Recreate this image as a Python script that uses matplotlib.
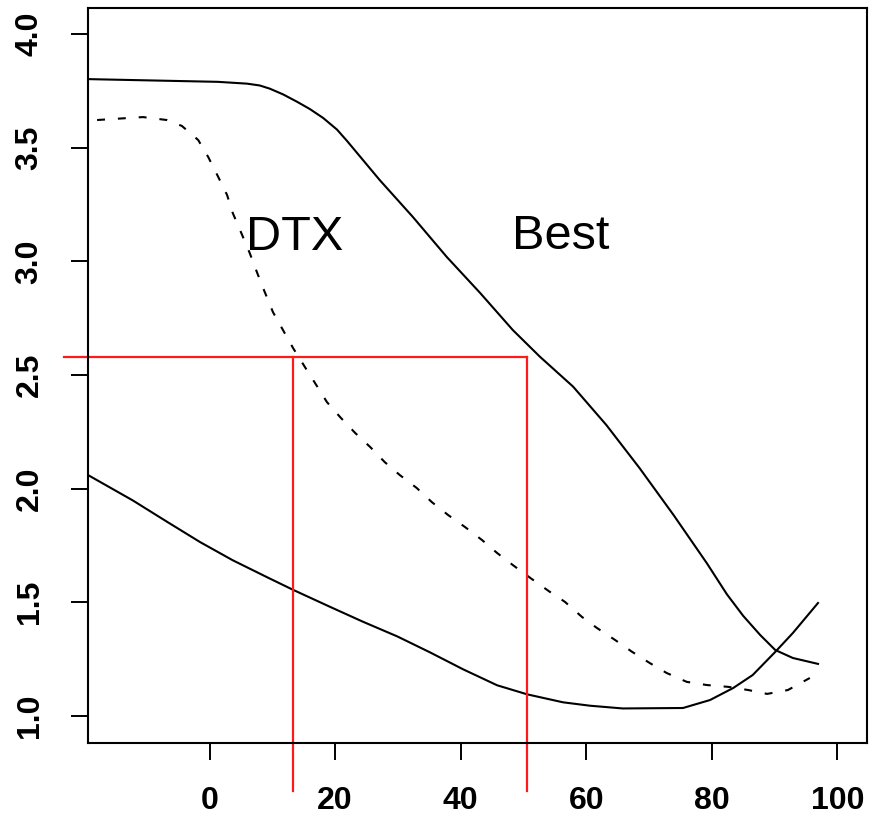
import numpy as np
import matplotlib.pyplot as plt

# upper solid curve ("Best")
best_x = [-19.35, 1.35, 6.0, 8.0, 9.6, 11.7, 13.9, 16.0, 18.1, 20.3, 21.9,
          27.1, 32.4, 37.8, 43.1, 48.3, 52.6, 57.9, 63.2, 68.5, 73.9, 79.2,
          82.4, 85.0, 87.7, 90.1, 92.9, 96.9]
best_y = [3.802, 3.790, 3.782, 3.774, 3.760, 3.735, 3.703, 3.670, 3.631, 3.580,
          3.530, 3.358, 3.195, 3.019, 2.861, 2.698, 2.581, 2.449, 2.280, 2.090,
          1.884, 1.672, 1.535, 1.440, 1.356, 1.290, 1.255, 1.229]

# dashed curve ("DTX")
dtx_x = [-17.9, -10.6, -6.8, -4.4, -1.8, -0.2, 1.4, 2.8, 3.7, 5.2, 6.4, 7.6,
         8.8, 10.1, 11.7, 13.3, 15.2, 16.8, 18.7, 20.8, 23.2, 25.6, 27.9,
         30.3, 33.0, 35.4, 38.0, 40.7, 43.4, 45.8, 48.3, 51.1, 54.2, 56.6,
         59.3, 61.7, 64.6, 67.3, 70.1, 72.8, 76.0, 79.2, 82.6, 85.8, 88.8,
         92.1, 95.6]
dtx_y = [3.622, 3.635, 3.622, 3.596, 3.534, 3.459, 3.371, 3.292, 3.213, 3.116,
         3.037, 2.949, 2.865, 2.777, 2.698, 2.619, 2.535, 2.465, 2.381, 2.315,
         2.245, 2.183, 2.117, 2.060, 2.003, 1.941, 1.884, 1.831, 1.774, 1.717,
         1.664, 1.607, 1.546, 1.502, 1.436, 1.387, 1.334, 1.282, 1.233, 1.189,
         1.150, 1.136, 1.128, 1.114, 1.097, 1.114, 1.167]

# lower solid curve
low_x = [-19.35, -12.2, -6.8, -1.5, 3.7, 9.2, 13.3, 19.2, 24.4, 29.9, 35.1,
         40.4, 45.8, 50.6, 56.3, 60.6, 65.8, 75.4, 79.7, 83.4, 86.5, 90.1,
         92.9, 96.9]
low_y = [2.060, 1.948, 1.855, 1.765, 1.685, 1.610, 1.555, 1.480, 1.415, 1.350,
         1.280, 1.205, 1.135, 1.095, 1.060, 1.045, 1.033, 1.035, 1.070, 1.123,
         1.180, 1.282, 1.365, 1.497]

# reference level and the two x values where it meets the curves
ref_level = 2.58
ref_x = [13.25, 50.6]
ref_left = -23.2
ref_bottom = 0.67

xticks = [0, 20, 40, 60, 80, 100]
yticks = [1.0, 1.5, 2.0, 2.5, 3.0, 3.5, 4.0]

fig = plt.figure(figsize=(8.73, 8.31), dpi=100)
ax = fig.add_axes([0.1008, 0.1059, 0.8923, 0.8845])

line_kw = dict(color="black", lw=1.5, solid_joinstyle="round")
ax.plot(best_x, best_y, **line_kw)
ax.plot(dtx_x, dtx_y, dashes=(3.8, 6.2), **line_kw)
ax.plot(low_x, low_y, **line_kw)

ax.plot([ref_left, ref_x[1]], [ref_level, ref_level], color="#ff1a1a", lw=1.6,
        clip_on=False)
for xv in ref_x:
    ax.plot([xv, xv], [ref_bottom, ref_level], color="#ff1a1a", lw=1.6,
            clip_on=False)

ax.text(13.6, 3.107, "DTX", fontsize=35, family="Liberation Sans",
        ha="center", va="center")
ax.text(56.0, 3.11, "Best", fontsize=35, family="Liberation Sans",
        ha="center", va="center")

ax.set_xlim(-19.35, 104.7)
ax.set_ylim(0.881, 4.115)
ax.set_xticks(xticks)
ax.set_yticks(yticks)
ax.set_xticklabels([str(t) for t in xticks], fontsize=23, fontweight="bold",
                   family="Liberation Sans")
ax.set_yticklabels([f"{t:.1f}" for t in yticks], fontsize=23,
                   fontweight="bold", family="Liberation Sans", rotation=90,
                   va="center")
ax.tick_params(direction="out", length=12.2, width=1.4, pad=19)
for s in ax.spines.values():
    s.set_linewidth(1.5)

fig.savefig("out.png", dpi=100)
